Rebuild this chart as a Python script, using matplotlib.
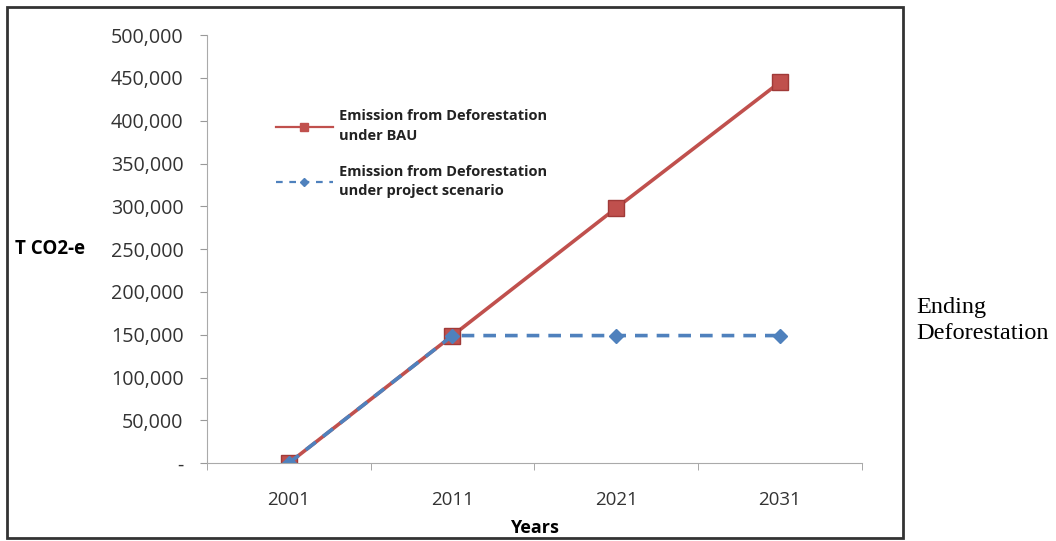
import numpy as np
import matplotlib
matplotlib.use("Agg")
import matplotlib.pyplot as plt
from matplotlib.patches import Rectangle
from matplotlib.lines import Line2D
from matplotlib.ticker import FuncFormatter

# Data
years = ["2001", "2011", "2021", "2031"]
bau = [0, 149000, 298000, 445000]
project = [0, 149000, 149000, 149000]
y_ticks = list(range(0, 500001, 50000))

bau_label = "Emission from Deforestation\nunder BAU"
project_label = "Emission from Deforestation\nunder project scenario"

red = '#C0504D'
blue = '#4F81BD'

plt.rcParams['font.family'] = ['Open Sans', 'DejaVu Sans']

fig = plt.figure(figsize=(10.56, 5.41), dpi=100)
ax = fig.add_axes([0.196, 0.144, 0.620, 0.791])

# outer border around the chart area
fig.patches.append(Rectangle((7 / 1056, 3 / 541), 896 / 1056, 531 / 541,
                             transform=fig.transFigure, fill=False,
                             edgecolor='#333333', linewidth=2))

x = np.arange(len(years))
ax.plot(x, bau, color=red, lw=2.6, marker='s', markersize=11,
        markerfacecolor=red, markeredgecolor='#A03A38')
ax.plot(x, project, color=blue, lw=2.6, dashes=(3.5, 2.5), marker='D',
        markersize=7, markerfacecolor=blue, markeredgecolor=blue)

ax.set_xlim(-0.5, len(years) - 0.5)
ax.set_ylim(0, 500000)

# category axis: labels at centres, tick marks between categories
ax.set_xticks(x)
ax.set_xticklabels(years, fontsize=13.5, color='#333333')
ax.tick_params(axis='x', length=0, pad=20)
ax.set_xticks(np.arange(-0.5, len(years), 1.0), minor=True)
ax.tick_params(axis='x', which='minor', length=5, color='#999999')

ax.set_yticks(y_ticks)
ax.yaxis.set_major_formatter(FuncFormatter(lambda v, p: '-' if v == 0 else f"{int(v):,}"))
ax.tick_params(axis='y', length=5, color='#999999', labelsize=14.2,
               labelcolor='#333333', pad=12)

for s in ['top', 'right']:
    ax.spines[s].set_visible(False)
ax.spines['left'].set_color('#AAAAAA')
ax.spines['bottom'].set_color('#AAAAAA')

ax.set_xlabel("Years", fontsize=13, fontweight='bold')
ax.xaxis.label.set_va('center')
ax.xaxis.set_label_coords(0.5, -0.152)
ax.set_ylabel("T CO2-e", fontsize=13.5, fontweight='bold', rotation=0,
              ha='left', va='center')
ax.yaxis.set_label_coords(-0.293, 0.5)

# legend handles are drawn thinner than the plotted lines
handles = [
    Line2D([], [], color=red, lw=1.6, marker='s', markersize=6,
           markerfacecolor=red, markeredgecolor=red),
    Line2D([], [], color=blue, lw=1.6, dashes=(3, 3), marker='D', markersize=4,
           markerfacecolor=blue, markeredgecolor=blue),
]
leg = ax.legend(handles, [bau_label, project_label], loc='upper left',
                bbox_to_anchor=(0.085, 0.857), frameon=False,
                fontsize=10.5, handlelength=3.9, labelspacing=1.5,
                handletextpad=0.45)
for t in leg.get_texts():
    t.set_fontweight('bold')
    t.set_color('#222222')
    t.set_linespacing(1.5)

fig.text(0.868, 0.408, "Ending\nDeforestation", fontsize=17.5,
         family='Liberation Serif', ha='left', va='center', linespacing=1.3)

fig.savefig("out.png", dpi=100)
